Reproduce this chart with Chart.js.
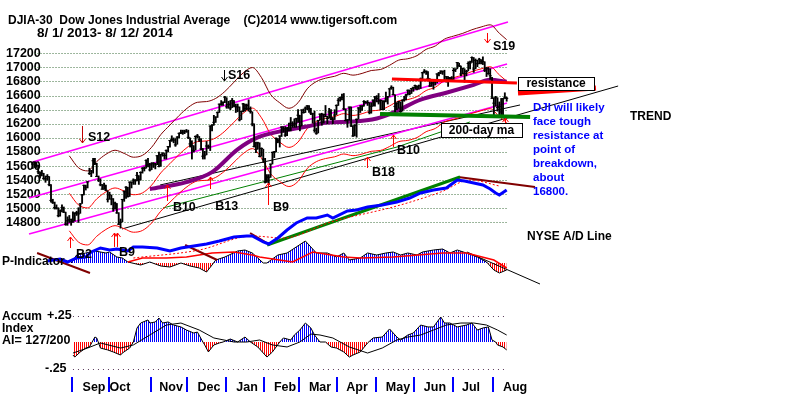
<!DOCTYPE html>
<html><head><meta charset="utf-8">
<script src="https://cdn.jsdelivr.net/npm/chart.js@4.4.1/dist/chart.umd.min.js"></script>
<style>html,body{margin:0;padding:0;background:#fff;overflow:hidden}</style>
</head><body>
<canvas id="c" width="800" height="397"></canvas>
<script>
// ---------------- DATA ----------------
const monthLabels = ['Sep','Oct','Nov','Dec','Jan','Feb','Mar','Apr','May','Jun','Jul','Aug'];
const monthLabelPos = [33.5, 47.7, 75.6, 96.3, 117.1, 137.9, 157, 177.2, 199.6, 219.8, 239.5, 263.6];
const monthBounds = [21.5, 41.5, 64.5, 84.5, 105.5, 126.5, 145.5, 166.5, 187.5, 208.5, 229.5, 251.5];
const priceTicks = [14800,15000,15200,15400,15600,15800,16000,16200,16400,16600,16800,17000,17200];

// daily DJIA, 8/1/2013 - 8/12/2014 (one row per month)
const closes = [
 15628,15658,15612,15519,15471,15498,15426,15419,15452,15337,15113,15081,15011,15003,14897,14964,15010,14947,14776,14824,14840,14810,
 14834,14930,14938,14922,15063,15191,15327,15300,15376,15495,15530,15676,15637,15452,15401,15334,15273,15329,15258,15130,
 15192,15133,14997,15073,14936,14776,14803,15126,15237,15301,15168,15373,15372,15400,15392,15468,15413,15509,15570,15569,15680,15619,15546,
 15616,15639,15618,15747,15594,15762,15784,15751,15822,15876,15962,15976,15968,15901,16010,16065,16073,16073,16097,16086,
 16008,15915,15889,15822,16020,16026,15973,15844,15740,15755,15885,15875,16168,16179,16221,16295,16358,16479,16479,16505,16577,
 16441,16470,16425,16531,16462,16444,16437,16257,16374,16482,16418,16459,16414,16373,16198,15879,15838,15929,15739,15849,15699,
 15373,15445,15441,15628,15794,15801,15994,15964,16027,16154,16130,16040,16133,16104,16208,16179,16198,16273,16322,
 16168,16395,16360,16422,16453,16419,16351,16340,16109,16066,16248,16337,16223,16332,16303,16276,16368,16268,16264,16324,16458,
 16533,16573,16573,16413,16246,16257,16437,16171,16027,16174,16263,16425,16409,16449,16514,16502,16502,16361,16449,16535,16581,
 16559,16513,16531,16402,16519,16551,16584,16696,16716,16614,16447,16492,16512,16375,16533,16543,16606,16676,16633,16699,16717,
 16743,16723,16738,16837,16924,16943,16946,16844,16735,16776,16782,16808,16907,16921,16948,16938,16819,16868,16846,16852,16827,
 16956,16976,17068,17025,16906,16985,16915,16944,17055,17061,17139,16977,17100,17052,17114,17087,17083,16961,16983,16913,16881,16563,
 16493,16569,16430,16443,16368,16554,16570,16561
];
const highs = [
 15658,15659,15650,15612,15519,15540,15498,15460,15480,15452,15337,15130,15090,15050,15010,14980,15050,15020,14947,14880,14900,14850,
 14950,14940,14960,15010,15070,15200,15330,15330,15380,15570,15540,15710,15710,15640,15460,15420,15340,15360,15330,15250,
 15230,15190,15140,15090,15070,14940,14850,15130,15250,15310,15300,15375,15375,15420,15410,15510,15465,15520,15580,15590,15690,15710,15640,
 15650,15650,15640,15750,15800,15770,15790,15780,15830,15880,15965,16030,16000,15990,16020,16070,16110,16110,16110,16120,
 16110,16000,15960,15890,16030,16050,16020,15990,15850,15810,15950,15900,16170,16190,16320,16300,16370,16480,16530,16510,16590,
 16570,16520,16530,16560,16530,16480,16480,16440,16380,16490,16480,16480,16540,16440,16370,16200,15940,15940,15930,15860,15840,
 15710,15480,15480,15630,15800,15810,16000,15990,16030,16160,16160,16160,16150,16210,16290,16230,16270,16280,16400,
 16320,16400,16410,16440,16460,16460,16420,16350,16380,16140,16250,16340,16350,16340,16460,16310,16420,16400,16290,16400,16470,
 16560,16580,16620,16630,16410,16260,16440,16440,16170,16190,16270,16430,16460,16460,16530,16520,16530,16500,16500,16540,16590,
 16600,16630,16540,16530,16530,16650,16590,16700,16740,16720,16610,16500,16520,16510,16540,16590,16620,16680,16680,16700,16720,
 16750,16730,16750,16850,16930,16970,16950,16940,16840,16800,16800,16830,16910,16930,16950,16950,16960,16870,16870,16860,16870,
 16990,16980,17070,17060,17020,16990,16980,16960,17080,17090,17150,17140,17120,17100,17130,17110,17150,17080,17000,17000,16980,16860,
 16570,16590,16570,16510,16560,16560,16640,16580
];
const lows = [
 15565,15580,15580,15490,15430,15460,15410,15370,15400,15320,15090,15070,14990,14990,14880,14890,14950,14940,14760,14760,14800,14760,
 14800,14820,14900,14800,14930,15070,15190,15260,15290,15480,15450,15500,15620,15450,15380,15320,15270,15270,15250,15090,
 15130,15050,14960,14990,14930,14770,14720,14810,15100,15140,15160,15170,15290,15340,15340,15390,15340,15400,15500,15530,15570,15590,15530,
 15550,15580,15560,15620,15590,15600,15740,15700,15700,15800,15870,15950,15930,15880,15910,16000,16060,16050,16060,16080,
 15990,15870,15700,15800,15830,16000,15950,15830,15700,15700,15760,15850,15820,16100,16180,16220,16290,16360,16460,16460,16500,
 16420,16420,16400,16430,16440,16360,16370,16240,16260,16370,16380,16400,16380,16350,16170,15870,15790,15840,15730,15740,15650,
 15360,15370,15340,15440,15630,15720,15800,15930,15870,16020,16080,16020,16030,16100,16100,16150,16150,16150,16220,
 16100,16170,16350,16360,16400,16360,16330,16210,16080,16050,16070,16250,16180,16210,16300,16200,16280,16260,16200,16260,16330,
 16460,16520,16540,16400,16240,16150,16250,16160,16020,16030,16010,16270,16360,16390,16450,16490,16460,16340,16350,16450,16450,
 16510,16480,16400,16400,16400,16510,16480,16590,16690,16610,16370,16400,16420,16360,16380,16520,16540,16610,16610,16630,16660,
 16690,16680,16690,16700,16840,16920,16900,16840,16730,16730,16690,16750,16780,16880,16910,16900,16800,16790,16730,16800,16810,
 16830,16940,16980,17010,16880,16910,16790,16880,16950,16980,17070,16930,16980,17010,17050,17050,17040,16940,16870,16900,16830,16560,
 16330,16450,16380,16330,16330,16330,16560,16520
];

// 21-day MA and its +/-3.5% bands (read every 5 sessions)
const bandIdx = [20,25,30,35,40,45,50,55,60,65,70,75,80,85,90,95,100,105,110,115,120,125,130,135,140,145,150,155,160,165,170,175,180,185,190,195,200,205,210,215,220,225,230,235,240,245,250,255,259];
const ma21 = [15214,15050,15007,15135,15234,15290,15246,15194,15220,15330,15504,15635,15765,15877,15947,15957,16000,16095,16223,16349,16423,16286,16054,15940,15865,15941,16131,16231,16277,16303,16344,16319,16343,16383,16396,16454,16525,16544,16586,16672,16719,16813,16854,16892,16941,16979,17009,16893,16805];
const bandUpper = [15746,15577,15532,15665,15767,15825,15780,15726,15753,15867,16047,16182,16317,16433,16505,16515,16560,16658,16791,16921,16998,16856,16616,16498,16420,16499,16696,16799,16847,16874,16916,16890,16915,16956,16970,17030,17103,17123,17167,17256,17304,17401,17444,17483,17534,17573,17604,17484,17393];
const bandLower = [14682,14523,14482,14605,14701,14755,14712,14662,14687,14793,14961,15088,15213,15321,15389,15399,15440,15532,15655,15777,15848,15716,15492,15382,15310,15383,15566,15663,15707,15732,15772,15748,15771,15810,15822,15878,15947,15965,16005,16088,16134,16225,16264,16301,16348,16385,16414,16302,16217];

// 65-day MA (thick purple)
const ma65Idx = [64,84,98,112,123,135,150,161,175,188,197,212,226,241,250,259];
const ma65 = [15275,15373,15514,15838,16007,16092,16162,16218,16232,16275,16358,16542,16641,16753,16824,16796];

// straight trend lines on price: [idx0, price0, idx1, price1]
const channelTop = [0, 15658, 259.7, 17644];
const channelMid = [-2, 15148, 259.2, 17048];
const channelLow = [-2, 14637, 259.2, 16495];
const trendBlackA = [48.8, 14708, 319.9, 16736];
const trendBlackB = [69.6, 15332, 266.3, 16467];
const greenThinIdx = [71.2, 199.1, 238.9];
const greenThin = [15006, 15871, 16226];
const supportGreen = [189.8, 16339, 271.8, 16296];
const resistRed = [196.3, 16835, 264.6, 16779];
const resistRedLabel = [265.2, 16637, 307.8, 16708];

// NYSE A/D line (relative units)
const adIdx = [8,15,19,24,29,32,37,42,46,52,55,60,68,75,81,88,95,102,110,117,120,126,129,134,139,144,150,155,161,164,172,177,183,191,199,206,212,219,226,232,236,241,246,250,253,255,259];
const adVals = [40,60,30,70,80,130,170,150,160,140,180,180,170,140,170,190,210,240,280,290,290,230,210,270,350,420,470,470,500,470,540,550,580,600,630,670,720,750,770,850,840,820,800,760,720,700,750];
const adMaIdx = [55,91,120,137,163,199,223,239,255];
const adMa = [70,150,290,270,430,590,730,850,790];
const adUp = [128.1, 200, 233.5, 880];
const adDown1 = [2.4, 120, 31.3, -80];
const adDown2 = [83.3, 200, 100.8, 50];
const adDown3 = [118.8, 320, 129.8, 200];
const adDown4 = [232.4, 880, 274.5, 780];

// P-Indicator (relative units)
const piIdx = [21,24,29,34,40,42,46,49,52,59,64,70,75,81,86,91,95,98,100,105,112,116,120,123,126,128,134,139,144,149,152,155,161,166,170,173,179,183,188,193,197,201,205,210,213,219,224,228,232,237,243,248,252,255,259];
const piVals = [0,80,100,120,100,110,60,50,10,-20,10,-30,-40,0,-30,-50,-90,-20,30,60,120,130,100,50,0,0,80,100,160,220,160,100,100,60,100,30,50,100,80,100,110,80,100,80,110,130,140,100,130,100,60,10,-70,-100,-70];
const piMaIdx = [52,60,73,84,98,110,120,124,142,153,170,179,197,224,237,252,259];
const piMa = [10,50,50,60,100,110,80,60,10,110,60,50,60,100,100,30,-50];
const piTrend = [237.3, 110, 277.2, -210];

// Accumulation Index
const aiIdx = [22,23,26,29,31,34,35,37,41,44,48,49,53,55,57,59,63,64,67,69,71,74,77,81,84,88,90,93,94,96,99,102,104,108,112,116,119,123,126,128,131,135,137,141,143,146,149,152,154,157,160,163,166,170,173,175,179,183,186,191,195,199,201,205,208,212,216,219,223,225,228,232,237,240,243,246,249,251,253,254,257,259];
const aiVals = [-0.123,-0.142,-0.094,-0.057,-0.047,0.047,0.038,-0.057,-0.075,-0.094,-0.123,-0.104,-0.057,0,0.132,0.179,0.208,0.179,0.189,0.226,0.179,0.189,0.160,0.142,0.113,0.085,0.094,0,-0.028,-0.094,-0.028,-0.009,0,0.028,0,0.047,0,-0.047,-0.104,-0.142,-0.094,0,0.038,0.019,0.066,0.113,0.179,0.132,0.066,0,0,-0.047,-0.057,-0.094,-0.142,-0.123,-0.094,-0.009,0.038,0.047,0.123,0.047,0.019,0.066,0.085,0.160,0.142,0.142,0.236,0.179,0.179,0.142,0.160,0.179,0.113,0.132,0.142,0.019,0,-0.028,-0.047,-0.075];
const aiMaIdx = [22,30,37,48,55,64,73,81,91,99,110,117,124,131,139,146,152,157,164,173,183,191,199,205,212,219,226,234,241,248,254,259];
const aiMa = [-0.104,-0.057,-0.009,-0.057,-0.028,0.066,0.160,0.179,0.113,0.038,0,0,0.019,-0.028,-0.047,0,0.075,0.066,0.038,-0.047,-0.104,-0.057,0.019,0.047,0.066,0.113,0.160,0.179,0.179,0.160,0.113,0.066];

// signals: text, text idx/price, arrow idx, tail price, tip price, colour
const signals = [
 ['S16', 106.7, 16878, 104.5, 16963, 16807, '#000000'],
 ['S12', 30.2, 16006, 26.9, 16169, 15928, '#c00000'],
 ['S19', 251.5, 17289, 248.2, 17488, 17346, '#ff0000'],
 ['B2', 23.7, 14339, 20.4, 14438, 14594, '#ff0000'],
 ['B9', 47.2, 14367, 44.2, 14453, 14651, '#ff0000'],
 ['', 0, 0, 46.3, 14453, 14651, '#ff0000'],
 ['B10', 76.6, 15006, 73.4, 15105, 15332, '#ff0000'],
 ['B13', 99.7, 15020, 96.9, 15275, 15446, '#ff0000'],
 ['B9', 131.3, 15006, 128.6, 15048, 15360, '#ff0000'],
 ['B18', 185.4, 15502, 182.7, 15573, 15729, '#ff0000'],
 ['B10', 199.1, 15814, 196.9, 15871, 16041, '#ff0000'],
 ['', 0, 0, 258.1, 16169, 16281, '#ff0000']
];

// ---------------- LAYOUT CONSTANTS (pixels) ----------------
const X0 = 32.7, XSTEP = 1.83;
const PRICE_REF = 17200, PRICE_REF_PX = 53.3, PRICE_PX = 0.0705;
const AD_ZERO_PX = 265, PI_ZERO_PX = 263, AI_ZERO_PX = 342, AI_PX = 106;
const FONT = '"Liberation Sans", Arial, sans-serif';

// ---------------- DRAWING ----------------
const canvas = document.getElementById('c');
const ctx = canvas.getContext('2d');
function stripes(color){
  const c = document.createElement('canvas'); c.width = 2; c.height = 1;
  const g = c.getContext('2d'); g.fillStyle = color; g.fillRect(0,0,1,1);
  return ctx.createPattern(c, 'repeat');
}
const blueStripes = stripes('#0000ff'), redStripes = stripes('#ff0000');
const pts = (xs, ys) => xs.map((x,i)=>({x, y: ys[i]}));
const seg = a => [{x:a[0], y:a[1]}, {x:a[2], y:a[3]}];
const line = (data, axis, color, width, extra) => Object.assign({
  type:'line', data, xAxisID:'x', yAxisID:axis, borderColor:color, borderWidth:width,
  pointRadius:0, fill:false, tension:0, clip:false }, extra || {});

const datasets = [
  line(pts(adIdx, adVals), 'ad', '#0000ff', 3, {order:1}),
  line(pts(adMaIdx, adMa), 'ad', '#ff0000', 1, {order:1, borderDash:[2,2], cubicInterpolationMode:'monotone'}),
  line(seg(adUp), 'ad', '#008000', 3, {order:1}),
  line(seg(adDown1), 'ad', '#800000', 2, {order:1}),
  line(seg(adDown2), 'ad', '#800000', 2, {order:1}),
  line(seg(adDown3), 'ad', '#800000', 2, {order:1}),
  line(seg(adDown4), 'ad', '#800000', 2, {order:1}),
  line(seg(resistRed), 'y', '#ff0000', 3, {order:2}),
  line(seg(resistRedLabel), 'y', '#ff0000', 5, {order:2}),
  line(seg(supportGreen), 'y', '#008000', 4, {order:2}),
  {type:'line', data: closes.map((c,i)=>({x:i, y:c})), xAxisID:'x', yAxisID:'y', showLine:false, clip:false,
   pointStyle:'line', pointRadius:1.6, pointBorderColor:'#000', pointBorderWidth:1, order:3},
  {type:'bar', data: closes.map((c,i)=>({x:i, y:[lows[i], highs[i]]})), xAxisID:'x', yAxisID:'y', clip:false,
   backgroundColor:'#000', borderWidth:0, barThickness:1.2, order:4},
  line(pts(ma65Idx, ma65), 'y', '#800080', 4, {order:5, cubicInterpolationMode:'monotone'}),
  line(pts(bandIdx, ma21), 'y', '#ff0000', 1, {order:6, cubicInterpolationMode:'monotone'}),
  line(pts(bandIdx, bandUpper), 'y', '#800000', 1, {order:6, cubicInterpolationMode:'monotone'}),
  line(pts(bandIdx, bandLower), 'y', '#ff0000', 1, {order:6, cubicInterpolationMode:'monotone'}),
  line(seg(channelTop), 'y', '#ff00ff', 1.5, {order:6}),
  line(seg(channelMid), 'y', '#ff00ff', 1.5, {order:6}),
  line(seg(channelLow), 'y', '#ff00ff', 1.5, {order:6}),
  line(seg(trendBlackA), 'y', '#000000', 1, {order:6}),
  line(seg(trendBlackB), 'y', '#000000', 1, {order:6}),
  line(pts(greenThinIdx, greenThin), 'y', '#008000', 1, {order:6}),
  line(pts(piMaIdx, piMa), 'pi', '#ff0000', 1.5, {order:7}),
  line(seg(piTrend), 'pi', '#000000', 1, {order:7}),
  line(pts(piIdx, piVals), 'pi', '#000000', 1, {order:8, fill:{target:{value:0}, above:blueStripes, below:redStripes}}),
  line(pts(aiMaIdx, aiMa), 'ai', '#000000', 1, {order:7}),
  line(pts(aiIdx, aiVals), 'ai', '#000000', 1, {order:8, fill:{target:{value:0}, above:blueStripes, below:redStripes}})
];

const deco = {
  id: 'deco',
  beforeDatasetsDraw(chart){
    const c = chart.ctx, x = chart.scales.x, y = chart.scales.y, ai = chart.scales.ai;
    c.save();
    const x0 = x.getPixelForValue(1), x1 = x.getPixelForValue(closes.length - 1);
    c.strokeStyle = '#3c6e3c'; c.lineWidth = 1; c.setLineDash([1,2]);
    y.ticks.forEach(t => {
      const py = Math.round(y.getPixelForValue(t.value)) + 0.5;
      c.beginPath(); c.moveTo(x0, py); c.lineTo(x1, py); c.stroke();
    });
    c.strokeStyle = '#5a3a5a'; c.setLineDash([1,4]);
    [0.25, -0.25].forEach(v => {
      const py = Math.round(ai.getPixelForValue(v)) + 0.5;
      c.beginPath(); c.moveTo(x.getPixelForValue(22), py); c.lineTo(x1, py); c.stroke();
    });
    c.setLineDash([]);
    c.strokeStyle = '#0000ff'; c.lineWidth = 2;
    monthBounds.forEach(b => {
      const px = Math.round(x.getPixelForValue(b));
      c.beginPath(); c.moveTo(px, chart.chartArea.bottom + 1); c.lineTo(px, chart.chartArea.bottom + 16); c.stroke();
    });
    c.restore();
  },
  afterDraw(chart){
    const c = chart.ctx, x = chart.scales.x, y = chart.scales.y, ai = chart.scales.ai;
    c.save();
    c.textBaseline = 'middle'; c.textAlign = 'left'; c.fillStyle = '#000';
    c.font = 'bold 12px ' + FONT;
    c.fillText('DJIA-30  Dow Jones Industrial Average    (C)2014 www.tigersoft.com', 8, 21);
    c.font = 'bold 13.5px ' + FONT;
    c.fillText('8/ 1/ 2013- 8/ 12/ 2014', 37, 33);
    signals.forEach(s => {
      const ax = Math.round(x.getPixelForValue(s[3])) + 0.5;
      const yt = y.getPixelForValue(s[4]), yp = y.getPixelForValue(s[5]);
      const dir = yp > yt ? 1 : -1;
      c.strokeStyle = s[6]; c.lineWidth = 1;
      c.beginPath(); c.moveTo(ax, yt); c.lineTo(ax, yp);
      c.moveTo(ax - 3, yp - dir * 4); c.lineTo(ax, yp); c.lineTo(ax + 3, yp - dir * 4); c.stroke();
      if (s[0]) {
        c.fillStyle = '#000'; c.font = 'bold 12.5px ' + FONT;
        c.fillText(s[0], x.getPixelForValue(s[1]), y.getPixelForValue(s[2]));
      }
    });
    const box = (txt, i0, p0, i1, p1) => {
      const l = x.getPixelForValue(i0), r = x.getPixelForValue(i1);
      const t = y.getPixelForValue(p0), b = y.getPixelForValue(p1);
      c.fillStyle = '#fff'; c.fillRect(l, t, r - l, b - t);
      c.strokeStyle = '#000'; c.lineWidth = 1; c.strokeRect(Math.round(l) + 0.5, Math.round(t) + 0.5, Math.round(r - l), Math.round(b - t));
      c.fillStyle = '#000'; c.font = 'bold 12px ' + FONT; c.textAlign = 'center';
      c.fillText(txt, (l + r) / 2, (t + b) / 2 + 0.5); c.textAlign = 'left';
    };
    box('resistance', 265.2, 16864, 306.8, 16679);
    box('200-day ma', 223.1, 16211, 267.4, 16013);
    c.fillStyle = '#0000ff'; c.font = 'bold 11.5px ' + FONT;
    ['DJI will likely','face tough','resistance at','point of','breakdown,','about','16800.'].forEach((t, i) => c.fillText(t, 533, 108 + i * 14));
    c.fillStyle = '#000'; c.font = 'bold 12px ' + FONT;
    c.fillText('TREND', 630, 117);
    c.fillText('NYSE A/D Line', 527, 237);
    c.fillText('P-Indicator', 2, 262);
    c.fillText('Accum', 2, 317);
    c.fillText('Index', 2, 329);
    c.font = 'bold 12.5px ' + FONT;
    c.fillText('AI= 127/200', 2, 341);
    c.fillText('+.25', 47, ai.getPixelForValue(0.25));
    c.fillText('-.25', 45, ai.getPixelForValue(-0.25));
    c.restore();
  }
};

const chart = new Chart(ctx, {
  type: 'line',
  data: { datasets },
  options: {
    responsive: false, animation: false, devicePixelRatio: 1,
    layout: { padding: { top: 8, left: 0, right: 0, bottom: 0 } },
    plugins: { legend: { display: false }, tooltip: { enabled: false } },
    elements: { point: { radius: 0 } },
    scales: {
      x: { type: 'linear', offset: false, min: -17.87, max: 419.29,
           grid: { display: false, drawTicks: false, offset: false }, border: { display: false },
           afterBuildTicks: s => { s.ticks = monthLabelPos.map(v => ({ value: v })); },
           afterFit: s => { s.height = 21; },
           ticks: { autoSkip: false, maxRotation: 0, padding: 4, color: '#000',
                    font: { family: FONT, size: 12.5, weight: 'bold' },
                    callback: (v, i) => monthLabels[i] } },
      y: { type: 'linear', position: 'left', min: 12622.7, max: 17842.6,
           grid: { display: false, drawTicks: false }, border: { display: false },
           afterBuildTicks: s => { s.ticks = priceTicks.map(v => ({ value: v })); },
           afterFit: s => { s.width = 0; },
           ticks: { mirror: true, padding: 6, color: '#000',
                    font: { family: FONT, size: 12.5, weight: 'bold' },
                    callback: v => String(v) } },
      ad: { type: 'linear', axis: 'y', position: 'left', display: false, min: -1110, max: 2570 },
      pi: { type: 'linear', axis: 'y', position: 'left', display: false, min: -1130, max: 2550 },
      ai: { type: 'linear', axis: 'y', position: 'left', display: false, min: -0.3208, max: 3.151 }
    }
  },
  plugins: [deco]
});

// match the scales' ranges to the reference's pixel layout, whatever chart area Chart.js settled on
function fitRanges(){
  const a = chart.chartArea, s = chart.options.scales;
  s.x.min = (a.left - X0) / XSTEP; s.x.max = (a.right - X0) / XSTEP;
  s.y.max = PRICE_REF + (PRICE_REF_PX - a.top) / PRICE_PX;
  s.y.min = PRICE_REF - (a.bottom - PRICE_REF_PX) / PRICE_PX;
  s.ad.max = (AD_ZERO_PX - a.top) * 10; s.ad.min = (AD_ZERO_PX - a.bottom) * 10;
  s.pi.max = (PI_ZERO_PX - a.top) * 10; s.pi.min = (PI_ZERO_PX - a.bottom) * 10;
  s.ai.max = (AI_ZERO_PX - a.top) / AI_PX; s.ai.min = (AI_ZERO_PX - a.bottom) / AI_PX;
  s.y.ticks.padding = 6 - a.left;
  chart.update('none');
}
fitRanges(); fitRanges(); fitRanges();
</script>
</body></html>
